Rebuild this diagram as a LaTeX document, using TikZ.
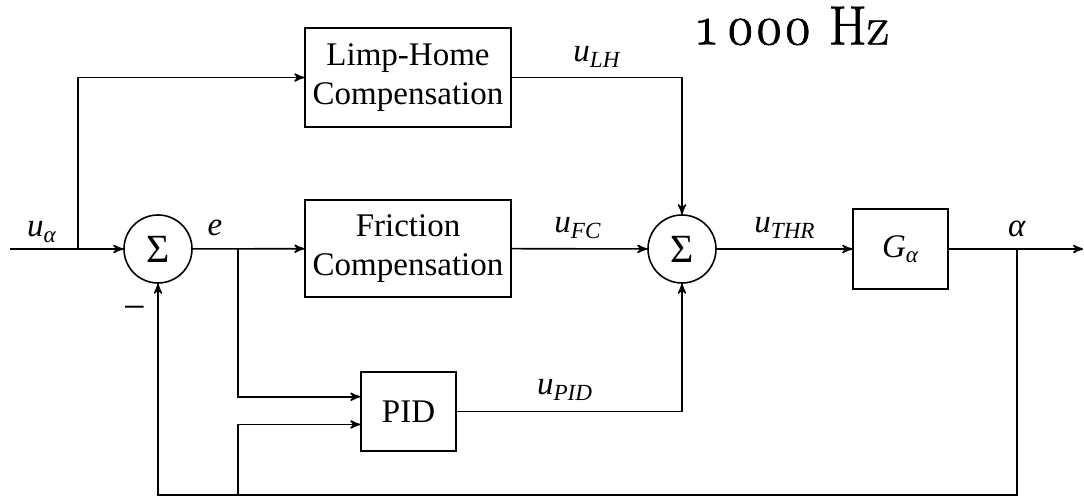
\documentclass[tikz,border=0pt]{standalone}
\usepackage{amsmath}
\usepackage{fontspec}
\setmainfont{Liberation Serif}
\newfontfamily\hzfont[Numbers=OldStyle,FakeBold=1.2]{Latin Modern Roman}
\usetikzlibrary{arrows}
\newcommand{\vi}[1]{\textit{#1}}

\begin{document}
\begin{tikzpicture}[x=.5pt,y=-.5pt,>=stealth',line width=.8pt]
\tikzstyle{every node}=[font=\fontsize{16.5}{19.5}\selectfont]
\tikzstyle{block}=[draw,rectangle,align=center,inner sep=2pt]
\tikzstyle{sum}=[draw,circle,minimum size=34pt,inner sep=0pt,font=\fontsize{20}{22}\selectfont]
\useasboundingbox (0,0) rectangle (1084,501);
\draw (408,77.5) node (lh) [block,minimum width=103pt,minimum height=49.5pt] {Limp-Home\\Compensation};
\draw (408,248.5) node (fc) [block,minimum width=103pt,minimum height=48.5pt] {Friction\\Compensation};
\draw (408.5,411.5) node (pid) [block,minimum width=47.5pt,minimum height=39.5pt] {PID};
\draw (900.5,249) node (g) [block,minimum width=47.5pt,minimum height=40pt] {$\vi{G}_{\vi{α}}$};
\draw (158,249) node (s1) [sum] {Σ};
\draw (682,249) node (s2) [sum] {Σ};
\coordinate (in) at (10,249);
\coordinate (out) at (1083,249);
\coordinate (ub) at (78,249);
\coordinate (eb) at (238,249);
\coordinate (ab) at (1017,249);
\coordinate (bot) at (1017,495);
\coordinate (fb) at (238,495);
\draw (42,232) node (lua) {$\vi{u}_{\vi{α}}$};
\draw (215,228) node (le) {\vi{e}};
\draw (597,57) node (llh) {$\vi{u}_{\vi{LH}}$};
\draw (578,228) node (lfc) {$\vi{u}_{\vi{FC}}$};
\draw (785,228) node (lthr) {$\vi{u}_{\vi{THR}}$};
\draw (565,390) node (lpid) {$\vi{u}_{\vi{PID}}$};
\draw (1017,229) node (lal) {\vi{α}};
\draw (135,313) node (lm) [font=\fontsize{20}{22}\selectfont] {−};
\draw (793,26) node (hz) [font=\hzfont\fontsize{27.5}{30}\selectfont] {1\,000 Hz};
\draw[->] (in) -- (s1);
\draw[->] (ub) |- (lh);
\draw[->] (s1) -- (fc);
\draw[->] (fc) -- (s2);
\draw[->] (lh) -| (s2);
\draw[->] (pid) -| (s2);
\draw[->] (s2) -- (g);
\draw[->] (g) -- (out);
\draw[->] (eb) |- (pid.163);
\draw[->] (fb) |- (pid.195);
\draw[->] (ab) -- (bot) -| (s1);
\end{tikzpicture}
\end{document}
